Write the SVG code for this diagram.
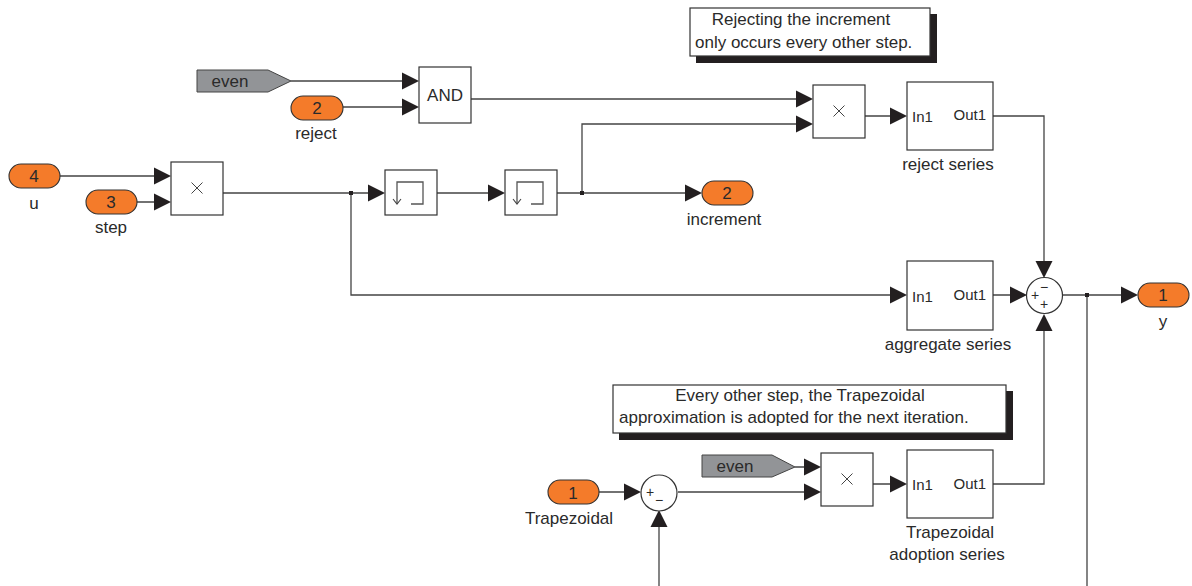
<svg xmlns="http://www.w3.org/2000/svg" width="1192" height="586" viewBox="0 0 1192 586">
<style>
text{font-family:"Liberation Sans",Arial,sans-serif;font-size:17px;fill:#2a2a2a}
.m{text-anchor:middle}
.b{fill:#fff;stroke:#333;stroke-width:1.2}
.p{fill:#f47b2a;stroke:#333;stroke-width:1.1}
.g{fill:#929497;stroke:#444;stroke-width:1}
.w{fill:none;stroke:#444;stroke-width:1.3}
.s{font-size:14px}
.io{font-size:15px}
</style>
<defs>
<polygon id="ar" points="-17,-8.500 0,0 -17,8.500" fill="#231f20"/>
<path id="mul" d="M-5.500,-5.500L5.500,5.500M5.500,-5.500L-5.500,5.500" fill="none" stroke="#444" stroke-width="1"/>
<g id="dly"><path d="M-14,11V-11H12V11H0" fill="none" stroke="#555" stroke-width="1.3"/><path d="M-18,6L-14,11L-10,6" fill="none" stroke="#444" stroke-width="1.1"/></g>
</defs>
<g id="connectors">
<path class="w" d="M291,81H403M343,107H403M60,176H155M137,202H155M223,193H368M351,193V295H890M437,193H488M557,193H685M582,193V124H796M471,99H796M865,116H890M993,116H1044V262M993,295H1010M1063,295H1122M1087,295V586M993,484H1044V331M795,467H806M678,492H806M873,484H890M599,492H624M659,586V527"/>
<rect x="349" y="191" width="4" height="4" fill="#231f20"/>
<rect x="580" y="191" width="4" height="4" fill="#231f20"/>
<rect x="1085" y="293" width="4" height="4" fill="#231f20"/>
<use href="#ar" x="171" y="176"/><use href="#ar" x="171" y="202"/>
<use href="#ar" x="419" y="81"/><use href="#ar" x="419" y="107"/>
<use href="#ar" x="385" y="193"/><use href="#ar" x="505" y="193"/>
<use href="#ar" x="702" y="193"/>
<use href="#ar" x="813" y="99"/><use href="#ar" x="813" y="124"/>
<use href="#ar" x="907" y="116"/><use href="#ar" x="907" y="295"/>
<use href="#ar" x="1027" y="295"/><use href="#ar" x="1138" y="295"/>
<use href="#ar" transform="translate(1044,278) rotate(90)"/>
<use href="#ar" transform="translate(1044,314) rotate(-90)"/>
<use href="#ar" x="821" y="467"/><use href="#ar" x="821" y="492"/>
<use href="#ar" x="907" y="484"/><use href="#ar" x="641" y="492"/>
<use href="#ar" transform="translate(659,510) rotate(-90)"/>
</g>
<g id="note1"><rect x="696" y="14" width="241" height="49" fill="#231f20"/><rect class="b" x="690" y="8" width="240" height="48"/>
<text x="801" y="25" class="m">Rejecting the increment</text><text x="695" y="48">only occurs every other step.</text></g>
<g id="note2"><rect x="619" y="391" width="394" height="49" fill="#231f20"/><rect class="b" x="613" y="385" width="393" height="48"/>
<text x="800" y="401" class="m">Every other step, the Trapezoidal</text><text x="619" y="423">approximation is adopted for the next iteration.</text></g>
<g id="from-even1"><polygon class="g" points="197,70 268,70 291,81 268,92 197,92"/><text x="230" y="87" class="m">even</text></g>
<g id="from-even2"><polygon class="g" points="702,455 772,455 795,467 772,477 702,477"/><text x="735" y="472" class="m">even</text></g>
<g id="in-reject"><rect class="p" x="291" y="96" width="52" height="24" rx="12"/><text x="317" y="114" class="m">2</text><text x="316" y="139" class="m">reject</text></g>
<g id="in-u"><rect class="p" x="9" y="164" width="51" height="24" rx="12"/><text x="34" y="182" class="m">4</text><text x="34" y="209" class="m">u</text></g>
<g id="in-step"><rect class="p" x="86" y="190" width="51" height="24" rx="12"/><text x="111" y="208" class="m">3</text><text x="111" y="233" class="m">step</text></g>
<g id="in-trap"><rect class="p" x="548" y="480" width="51" height="24" rx="12"/><text x="573" y="499" class="m">1</text><text x="569" y="524" class="m">Trapezoidal</text></g>
<g id="out-increment"><rect class="p" x="702" y="181" width="51" height="24" rx="12"/><text x="727" y="199" class="m">2</text><text x="724" y="225" class="m">increment</text></g>
<g id="out-y"><rect class="p" x="1138" y="283" width="51" height="24" rx="12"/><text x="1163" y="301" class="m">1</text><text x="1163" y="327" class="m">y</text></g>
<g id="and"><rect class="b" x="419" y="67" width="52" height="56"/><text x="445" y="101" class="m">AND</text></g>
<g id="prod1"><rect class="b" x="171" y="162" width="52" height="53"/><use href="#mul" x="197" y="188"/></g>
<g id="prod2"><rect class="b" x="813" y="85" width="52" height="53"/><use href="#mul" x="839" y="111"/></g>
<g id="prod3"><rect class="b" x="821" y="453" width="52" height="53"/><use href="#mul" x="847" y="479"/></g>
<g id="delay1"><rect class="b" x="385" y="170" width="52" height="45"/><use href="#dly" x="411" y="193"/></g>
<g id="delay2"><rect class="b" x="505" y="170" width="52" height="45"/><use href="#dly" x="531" y="193"/></g>
<g id="reject-series"><rect class="b" x="907" y="82" width="86" height="68"/><text x="912" y="122" class="io">In1</text><text x="986" y="120" class="io" text-anchor="end">Out1</text><text x="948" y="170" class="m">reject series</text></g>
<g id="aggregate-series"><rect class="b" x="907" y="261" width="86" height="69"/><text x="912" y="302" class="io">In1</text><text x="986" y="300" class="io" text-anchor="end">Out1</text><text x="948" y="350" class="m">aggregate series</text></g>
<g id="trap-series"><rect class="b" x="907" y="450" width="86" height="68"/><text x="912" y="490" class="io">In1</text><text x="986" y="489" class="io" text-anchor="end">Out1</text><text x="950" y="538" class="m">Trapezoidal</text><text x="947" y="560" class="m">adoption series</text></g>
<g id="sum1"><circle class="b" cx="1044.500" cy="295.500" r="18"/><text x="1035" y="300" class="s m">+</text><text x="1044" y="292" class="s m">−</text><text x="1044" y="309" class="s m">+</text></g>
<g id="sum2"><circle class="b" cx="659" cy="493" r="18"/><text x="650" y="497" class="s m">+</text><text x="659" y="505" class="s m">−</text></g>
</svg>
